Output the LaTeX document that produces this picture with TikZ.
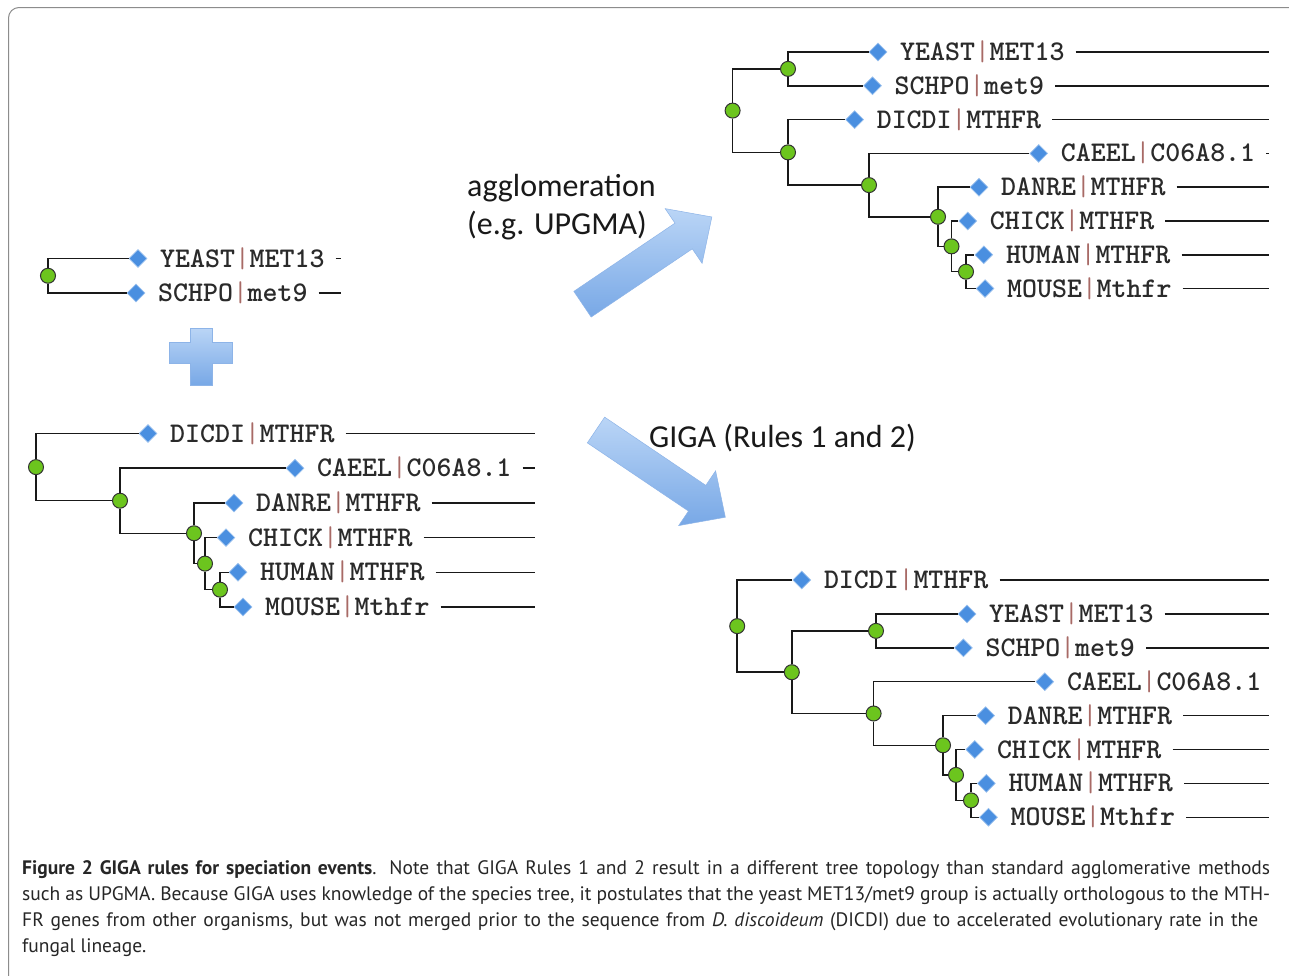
\documentclass[tikz,border=0pt]{standalone}
\usepackage{fontspec}
\setmainfont{Carlito}
\newfontfamily\capfont{PT Sans}
\usetikzlibrary{shapes.geometric}
\definecolor{pipe}{HTML}{A86A66}
\definecolor{nodegreen}{HTML}{6CC51E}
\definecolor{leafblue}{HTML}{4A8FE0}
\definecolor{arrowlight}{HTML}{BAD5F6}
\definecolor{arrowdark}{HTML}{78A8E6}
\definecolor{arrowedge}{HTML}{8DB4E8}
\definecolor{txt}{HTML}{2A2A2A}
\definecolor{framegray}{HTML}{8C8C8C}
\newcommand\treefont{\ttfamily\bfseries\fontsize{28.5}{30}\selectfont}
\tikzset{
  x=1pt, y=-1pt,
  edge/.style={draw=black!90, line width=1.5pt},
  inode/.style={circle, fill=nodegreen, draw=black!80, line width=1pt, minimum size=15pt, inner sep=0pt},
  leaf/.style={diamond, fill=leafblue, draw=leafblue!55!white, line width=0.7pt, minimum size=18pt, inner sep=0pt},
  lab/.style={anchor=base west, inner sep=0pt, text=txt, font=\treefont},
  albl/.style={anchor=base west, inner sep=0pt, text=black!90, font=\fontsize{32}{38}\selectfont},
  capline/.style={anchor=base west, inner sep=0pt, text=black!85, font=\capfont\fontsize{19.5}{26}\selectfont},
  bigarrow/.style={top color=arrowlight, bottom color=arrowdark, draw=arrowedge, line width=0.5pt},
}
\newcommand\leafnode[6]{%
  \node[leaf] (#1) at (#2,#3) {};
  \node[lab] (#1l) at ([xshift=22pt,yshift=-8.5pt]#1.center) {#4{\mdseries\color{pipe}|}#5};
  \coordinate (#1e) at (#6,#3);
  \draw[edge] ([xshift=11pt]#1l.east |- #1.center) -- (#1e);
}
\newcommand\leafnoline[5]{%
  \node[leaf] (#1) at (#2,#3) {};
  \node[lab] (#1l) at ([xshift=22pt,yshift=-8.5pt]#1.center) {#4{\mdseries\color{pipe}|}#5};
}
\begin{document}
\begin{tikzpicture}
\fill[white] (0,0) rectangle (1289,975);
\useasboundingbox (0,0) rectangle (1289,975);
% frame
\draw[framegray, line width=1pt, rounded corners=10.5pt] (8.5,980) -- (8.5,7.5) -- (1295,7.5);

% ---------- top-left tree ----------
\node[inode] (tlR) at (48,275.75) {};
\leafnode{tlY}{138}{258.5}{YEAST}{MET13}{341}
\leafnode{tlS}{136}{293}{SCHPO}{met9}{341}
\draw[edge] (tlR) |- (tlY);
\draw[edge] (tlR) |- (tlS);

% plus sign
\shade[bigarrow] (190,328) -- (212,328) -- (212,342) -- (232,342) -- (232,363) -- (212,363)
  -- (212,385) -- (190,385) -- (190,363) -- (169,363) -- (169,342) -- (190,342) -- cycle;

% ---------- bottom-left tree ----------
\node[inode] (blR) at (36,467.1) {};
\node[inode] (bl2) at (120,500.7) {};
\node[inode] (bl3) at (194,533.25) {};
\node[inode] (bl4) at (205,563.6) {};
\node[inode] (bl5) at (220,589.65) {};
\leafnode{blDI}{148}{433.5}{DICDI}{MTHFR}{535}
\leafnode{blCA}{295}{468.2}{CAEEL}{C06A8.1}{535}
\leafnode{blDA}{234}{502.9}{DANRE}{MTHFR}{535}
\leafnode{blCH}{226}{537.6}{CHICK}{MTHFR}{535}
\leafnode{blHU}{238}{572.3}{HUMAN}{MTHFR}{535}
\leafnode{blMO}{243}{607}{MOUSE}{Mthfr}{535}
\draw[edge] (blR) |- (blDI);
\draw[edge] (blR) |- (bl2);
\draw[edge] (bl2) |- (blCA);
\draw[edge] (bl2) |- (bl3);
\draw[edge] (bl3) |- (blDA);
\draw[edge] (bl3) |- (bl4);
\draw[edge] (bl4) |- (blCH);
\draw[edge] (bl4) |- (bl5);
\draw[edge] (bl5) |- (blHU);
\draw[edge] (bl5) |- (blMO);

% ---------- top-right tree ----------
\node[inode] (trR) at (732.6,110.6) {};
\node[inode] (trA) at (788,68.9) {};
\node[inode] (trB) at (788,152.35) {};
\node[inode] (trC) at (869,185.1) {};
\node[inode] (trD) at (938,216.8) {};
\node[inode] (trE) at (951.5,246.35) {};
\node[inode] (trF) at (966,271.7) {};
\leafnode{trYE}{878}{52}{YEAST}{MET13}{1269}
\leafnode{trSC}{872.5}{85.8}{SCHPO}{met9}{1269}
\leafnode{trDI}{854.6}{119.6}{DICDI}{MTHFR}{1269}
\leafnode{trCA}{1038.7}{153.4}{CAEEL}{C06A8.1}{1269}
\leafnode{trDA}{979}{187.2}{DANRE}{MTHFR}{1269}
\leafnode{trCH}{967.7}{221}{CHICK}{MTHFR}{1269}
\leafnode{trHU}{983.8}{254.8}{HUMAN}{MTHFR}{1269}
\leafnode{trMO}{985}{288.6}{MOUSE}{Mthfr}{1269}
\draw[edge] (trR) |- (trA);
\draw[edge] (trR) |- (trB);
\draw[edge] (trA) |- (trYE);
\draw[edge] (trA) |- (trSC);
\draw[edge] (trB) |- (trDI);
\draw[edge] (trB) |- (trC);
\draw[edge] (trC) |- (trCA);
\draw[edge] (trC) |- (trD);
\draw[edge] (trD) |- (trDA);
\draw[edge] (trD) |- (trE);
\draw[edge] (trE) |- (trCH);
\draw[edge] (trE) |- (trF);
\draw[edge] (trF) |- (trHU);
\draw[edge] (trF) |- (trMO);

% ---------- bottom-right tree ----------
\node[inode] (brR) at (737.2,626.1) {};
\node[inode] (brB) at (791.8,672.2) {};
\node[inode] (brA) at (876,630.85) {};
\node[inode] (brC) at (873.6,713.5) {};
\node[inode] (brD) at (943,745.25) {};
\node[inode] (brE) at (956,774.9) {};
\node[inode] (brF) at (971,800.35) {};
\leafnode{brDI}{801.8}{580}{DICDI}{MTHFR}{1269}
\leafnode{brYE}{967}{613.9}{YEAST}{MET13}{1269}
\leafnode{brSC}{963.4}{647.8}{SCHPO}{met9}{1269}
\leafnoline{brCA}{1044.8}{681.7}{CAEEL}{C06A8.1}
\leafnode{brDA}{985.6}{715.6}{DANRE}{MTHFR}{1269}
\leafnode{brCH}{974.8}{749.5}{CHICK}{MTHFR}{1269}
\leafnode{brHU}{986.3}{783.4}{HUMAN}{MTHFR}{1269}
\leafnode{brMO}{988.5}{817.3}{MOUSE}{Mthfr}{1269}
\draw[edge] (brR) |- (brDI);
\draw[edge] (brR) |- (brB);
\draw[edge] (brB) |- (brA);
\draw[edge] (brB) |- (brC);
\draw[edge] (brA) |- (brYE);
\draw[edge] (brA) |- (brSC);
\draw[edge] (brC) |- (brCA);
\draw[edge] (brC) |- (brD);
\draw[edge] (brD) |- (brDA);
\draw[edge] (brD) |- (brE);
\draw[edge] (brE) |- (brCH);
\draw[edge] (brE) |- (brF);
\draw[edge] (brF) |- (brHU);
\draw[edge] (brF) |- (brMO);

% ---------- big arrows ----------
\begin{scope}[shift={(582.5,304.2)}, rotate=34]
  \shade[bigarrow] (0,-15.5) -- (122,-15.5) -- (122,-33) -- (156,0) -- (122,33) -- (122,15.5) -- (0,15.5) -- cycle;
\end{scope}
\begin{scope}[shift={(596,430)}, rotate=-34]
  \shade[bigarrow] (0,-15.5) -- (122,-15.5) -- (122,-33) -- (156,0) -- (122,33) -- (122,15.5) -- (0,15.5) -- cycle;
\end{scope}

% arrow labels
\node[albl] (t1) at (467,196) {agglomeration};
\node[albl] (t2) at (467,234) {(e.g. UPGMA)};
\node[albl] (t3) at (649,447) {GIGA (Rules 1 and 2)};

% ---------- caption ----------
\node[capline] (c1) at (22,874) {\makebox[1248pt][s]{\textbf{Figure 2 GIGA rules for speciation events}. Note that GIGA Rules 1 and 2 result in a different tree topology than standard agglomerative methods}};
\node[capline] (c2) at (22,900) {\makebox[1248pt][s]{such as UPGMA. Because GIGA uses knowledge of the species tree, it postulates that the yeast MET13/met9 group is actually orthologous to the MTH-}};
\node[capline] (c3) at (22,926) {\makebox[1236pt][s]{FR genes from other organisms, but was not merged prior to the sequence from \textit{D. discoideum} (DICDI) due to accelerated evolutionary rate in the}};
\node[capline] (c4) at (22,952) {fungal lineage.};
\end{tikzpicture}
\end{document}
